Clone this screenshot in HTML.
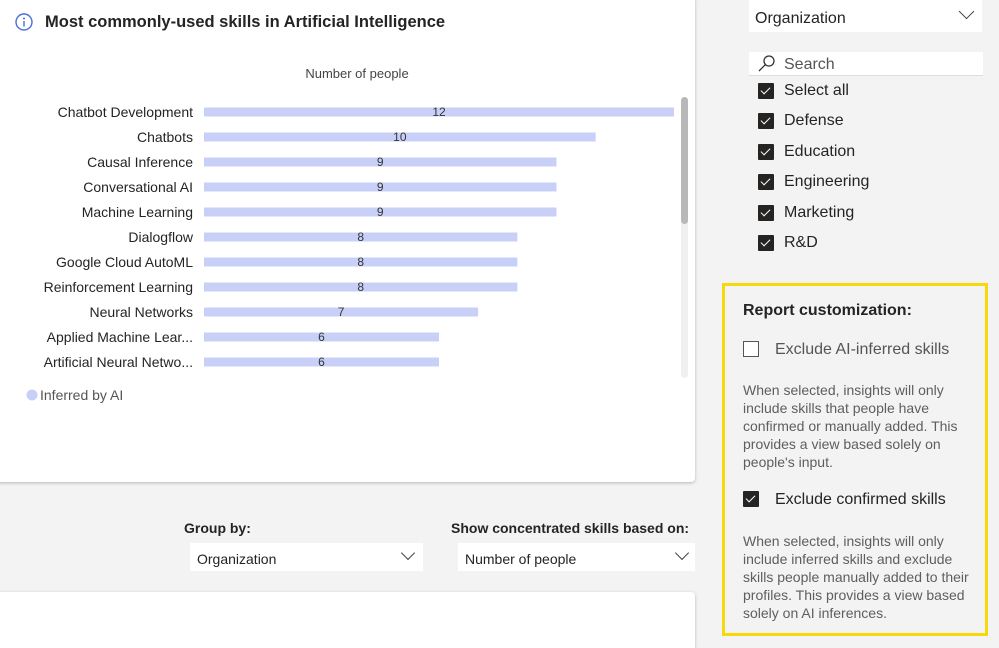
<!DOCTYPE html>
<html style="width:999px;height:648px;overflow:hidden"><head><meta charset="utf-8">
<style>
html,body{margin:0;padding:0}
body{width:999px;height:648px;background:#f3f3f3;font-family:"Liberation Sans",sans-serif;position:relative;overflow:hidden;color:#252423}
.abs{position:absolute}
.card{position:absolute;background:#fff;border-radius:4px;box-shadow:0 1px 3px rgba(0,0,0,0.25)}
.cb{position:absolute;width:16px;height:16px;background:#252423;border-radius:1px}
.cb:after{content:"";position:absolute;left:5px;top:2px;width:4px;height:8px;border:solid #fff;border-width:0 1.5px 1.5px 0;transform:rotate(45deg)}
.lbl{position:absolute;font-size:16px;color:#252423}
.dd{position:absolute;background:#fff;font-size:14px;color:#252423}
.chev{position:absolute;width:9px;height:9px;border:solid #444;border-width:0 1.3px 1.3px 0;transform:rotate(45deg)}
</style></head><body>
<div class="card" style="left:-4px;top:-4px;width:699px;height:486px"></div>
<svg class="abs" style="left:15px;top:13px" width="20" height="20"><circle cx="9" cy="9" r="8" fill="none" stroke="#4a6fd8" stroke-width="1.4"/><circle cx="9" cy="5.5" r="1" fill="#4a6fd8"/><rect x="8.3" y="8" width="1.4" height="5.5" fill="#4a6fd8"/></svg>
<div class="abs" style="left:45px;top:13px;font-size:16.5px;font-weight:bold;color:#252423">Most commonly-used skills in Artificial Intelligence</div>
<svg id="chart" class="abs" style="left:0;top:0" width="700" height="420"></svg>
<div class="abs" style="left:681px;top:97px;width:7px;height:281px;background:#f0f0f0;border-radius:4px"></div>
<div class="abs" style="left:681px;top:97px;width:7px;height:127px;background:#b8b8b8;border-radius:4px"></div>

<div class="lbl" style="left:184px;top:520px;font-size:14px;font-weight:bold">Group by:</div>
<div class="dd" style="left:190px;top:543px;width:233px;height:28px"><span class="abs" style="left:7px;top:8px">Organization</span><span class="chev" style="left:213px;top:5px"></span></div>
<div class="lbl" style="left:451px;top:520px;font-size:14px;font-weight:bold">Show concentrated skills based on:</div>
<div class="dd" style="left:458px;top:543px;width:237px;height:28px"><span class="abs" style="left:7px;top:8px">Number of people</span><span class="chev" style="left:219px;top:5px"></span></div>
<div class="card" style="left:-4px;top:592px;width:699px;height:56px;border-bottom-left-radius:0;border-bottom-right-radius:0"></div>

<div class="dd" style="left:749px;top:0;width:233px;height:32px;font-size:16px"><span class="abs" style="left:6px;top:10px">Organization</span><span class="chev" style="left:212px;top:6px;width:10px;height:10px"></span></div>
<div class="dd" style="left:749px;top:52px;width:234px;height:23px;border-bottom:1px solid #ddd;font-size:16px"><svg class="abs" style="left:8px;top:2px" width="20" height="20"><circle cx="12" cy="7" r="5" fill="none" stroke="#333" stroke-width="1.3"/><line x1="8.5" y1="10.5" x2="2" y2="17" stroke="#333" stroke-width="1.3"/></svg><span class="abs" style="left:35px;top:4px;color:#555">Search</span></div>
<div id="filters"></div>

<div class="abs" style="left:722px;top:283px;width:260px;height:347px;border:3.5px solid #f5d90a"></div>
<div class="lbl" style="left:743px;top:302px;font-weight:bold;font-size:16px">Report customization:</div>
<div class="abs" style="left:743px;top:341px;width:14px;height:14px;border:1px solid #555;background:#fff"></div>
<div class="lbl" style="left:775px;top:341px;color:#555">Exclude AI-inferred skills</div>
<div class="lbl" style="left:743px;top:381px;width:235px;font-size:14px;line-height:18px;color:#605e5c">When selected, insights will only include skills that people have confirmed or manually added. This provides a view based solely on people's input.</div>
<div class="cb" style="left:743px;top:491px"></div>
<div class="lbl" style="left:775px;top:491px">Exclude confirmed skills</div>
<div class="lbl" style="left:743px;top:532px;width:240px;font-size:14px;line-height:18px;color:#605e5c">When selected, insights will only include inferred skills and exclude skills people manually added to their profiles. This provides a view based solely on AI inferences.</div>

<script>
const skills=["Chatbot Development","Chatbots","Causal Inference","Conversational AI","Machine Learning","Dialogflow","Google Cloud AutoML","Reinforcement Learning","Neural Networks","Applied Machine Lear...","Artificial Neural Netwo..."];
const counts=[12,10,9,9,9,8,8,8,7,6,6];
const filterItems=["Select all","Defense","Education","Engineering","Marketing","R&D"];
const NS="http://www.w3.org/2000/svg";
const svg=document.getElementById('chart');
const x0=204,unit=470/12;
const xScale=v=>v*unit;
const yScale=i=>112+i*25;
function mk(t,a,txt){const e=document.createElementNS(NS,t);for(const k in a)e.setAttribute(k,a[k]);if(txt!==undefined)e.textContent=txt;svg.appendChild(e);return e;}
const at=mk('text',{x:357,y:78,'text-anchor':'middle','font-size':13,fill:'#444','font-family':'Liberation Sans'},'Number of people');


skills.forEach((s,i)=>{
 const y=yScale(i);
 const l=mk('text',{x:193,y:y+5,'text-anchor':'end','font-size':14,fill:'#252423','font-family':'Liberation Sans'},s);
 
 
 const r=mk('rect',{x:x0,y:y-4.5,width:xScale(counts[i]),height:9,fill:'#c9d0f8'});
 
 
 const v=mk('text',{x:x0+xScale(counts[i])/2,y:y+4,'text-anchor':'middle','font-size':12,fill:'#333','font-family':'Liberation Sans'},counts[i]);
 
 
});
const lc=mk('circle',{cx:32,cy:395,r:5.5,fill:'#c9d0f8'});


const lt=mk('text',{x:40,y:400,'font-size':14,fill:'#555','font-family':'Liberation Sans'},'Inferred by AI');


const f=document.getElementById('filters');
filterItems.forEach((s,i)=>{
 const y=83+i*30.4;
 const c=document.createElement('div');c.className='cb';c.style.left='758px';c.style.top=y+'px';
 
 
 f.appendChild(c);
 const t=document.createElement('div');t.className='lbl';t.style.left='784px';t.style.top=(y-1)+'px';t.textContent=s;
 
 
 f.appendChild(t);
});
</script>
</body></html>
